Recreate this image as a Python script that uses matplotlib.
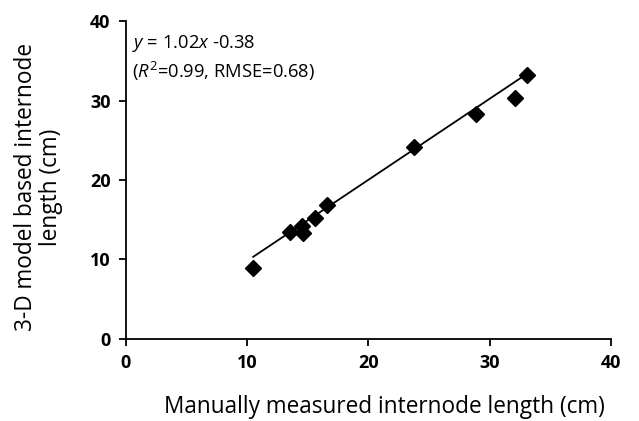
import numpy as np
import matplotlib.pyplot as plt

# manually measured vs 3-D model based internode length (cm)
manual = [10.5, 13.5, 14.5, 14.6, 15.6, 16.6, 23.8, 28.9, 32.1, 33.1]
model = [8.9, 13.5, 14.2, 13.3, 15.2, 16.9, 24.2, 28.3, 30.3, 33.2]
slope, intercept = 1.02, -0.38

plt.rcParams['font.family'] = ['Open Sans', 'DejaVu Sans']
plt.rcParams['mathtext.fontset'] = 'custom'
plt.rcParams['mathtext.rm'] = 'Open Sans'
plt.rcParams['mathtext.it'] = 'Open Sans:italic'

fig = plt.figure(figsize=(6.39, 4.21), dpi=100)
ax = fig.add_axes([0.197, 0.195, 0.759, 0.755])

ax.plot(manual, model, 'D', color='black', markersize=8, zorder=3)
xl = np.array([min(manual), max(manual)])
ax.plot(xl, slope * xl + intercept, color='black', linewidth=1.3)

ax.set_xlim(0, 40)
ax.set_ylim(0, 40)
ax.set_xticks([0, 10, 20, 30, 40])
ax.set_yticks([0, 10, 20, 30, 40])
for s in ['top', 'right']:
    ax.spines[s].set_visible(False)
for s in ['left', 'bottom']:
    ax.spines[s].set_linewidth(1.3)
ax.tick_params(direction='out', length=5, width=1.3, labelsize=13, pad=6)
for lab in ax.get_xticklabels() + ax.get_yticklabels():
    lab.set_fontweight('bold')

ax.set_xlabel('Manually measured internode length (cm)', fontsize=16.3)
ax.xaxis.set_label_coords(0.532, -0.178)
ax.set_ylabel('3-D model based internode\nlength (cm)', fontsize=16.3, linespacing=1.05)
ax.yaxis.set_label_coords(-0.13, 0.478)

ax.text(0.013, 0.962, '$y$ = 1.02$x$ -0.38\n($R^2$=0.99, RMSE=0.68)', transform=ax.transAxes,
        fontsize=13.2, va='top', ha='left', linespacing=1.3)

fig.savefig('out.png', dpi=100)
